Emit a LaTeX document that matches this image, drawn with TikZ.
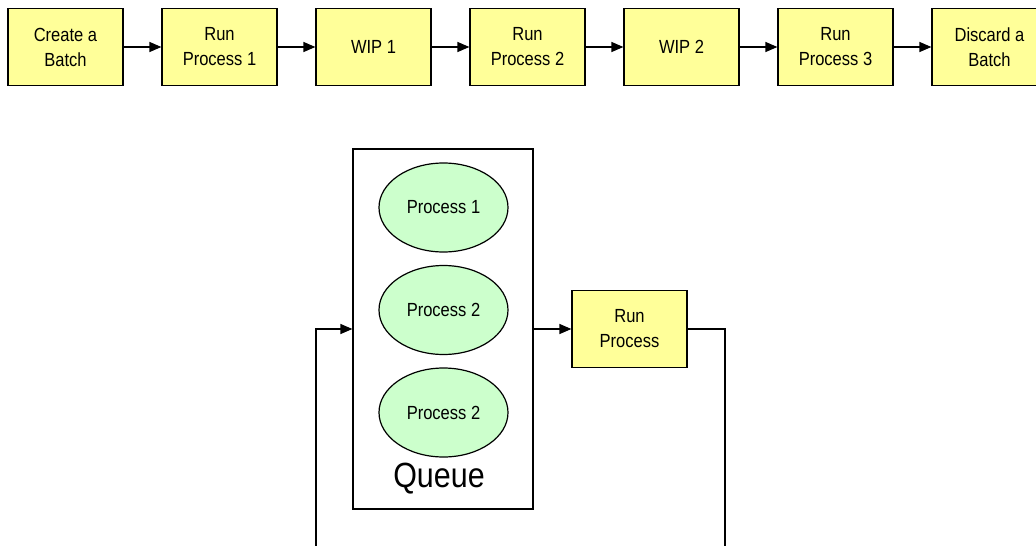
\documentclass[tikz,border=0pt]{standalone}
\usepackage{fontspec}
\setmainfont{Liberation Sans}[FakeStretch=0.87]
\usetikzlibrary{shapes.geometric,arrows.meta}
\definecolor{boxyellow}{HTML}{FFFF99}
\definecolor{ellgreen}{HTML}{CCFFCC}
\tikzset{
  stepbox/.style={draw=black, line width=1.2pt, fill=boxyellow, minimum width=115pt, minimum height=77pt, inner sep=0pt, align=center, font=\fontsize{19}{25}\selectfont},
  procell/.style={draw=black, line width=1.2pt, fill=ellgreen, ellipse, minimum width=129pt, minimum height=89pt, inner sep=0pt, font=\fontsize{19}{22}\selectfont},
  queuebox/.style={draw=black, line width=1.2pt, fill=white, minimum width=180pt, minimum height=360pt, inner sep=0pt},
  arr/.style={line width=1.2pt, -{Triangle[length=12pt,width=10pt]}},
  ln/.style={line width=1.2pt}
}
\begin{document}
\begin{tikzpicture}[x=1pt,y=-1pt]
\clip (0,0) rectangle (1036,546);
\fill[white] (0,0) rectangle (1036,546);
\node[stepbox] (b1) at (65.5,47) {Create a\\Batch};
\node[stepbox] (b2) at (219.5,47) {Run\\Process 1};
\node[stepbox] (b3) at (373.5,47) {WIP 1};
\node[stepbox] (b4) at (527.5,47) {Run\\Process 2};
\node[stepbox] (b5) at (681.5,47) {WIP 2};
\node[stepbox] (b6) at (835.5,47) {Run\\Process 3};
\node[stepbox] (b7) at (989.5,47) {Discard a\\Batch};
\foreach \a/\b in {b1/b2,b2/b3,b3/b4,b4/b5,b5/b6,b6/b7}
  \draw[arr] (\a.east) -- (\b.west);

\node[queuebox] (queue) at (443,329) {};
\node[procell] (p1) at (443.5,207.5) {Process 1};
\node[procell] (p2) at (443.5,310) {Process 2};
\node[procell] (p3) at (443.5,412.5) {Process 2};
\node[font=\fontsize{35}{40}\selectfont, inner sep=0pt] (qlabel) at (439,479) {Queue};
\node[stepbox] (run) at (629.5,329) {Run\\Process};
\coordinate (bl) at (316,560);
\coordinate (br) at (725,560);
\draw[arr] (bl) |- (queue.west);
\draw[arr] (queue.east) -- (run.west);
\draw[ln] (run.east) -| (br);
\end{tikzpicture}
\end{document}
